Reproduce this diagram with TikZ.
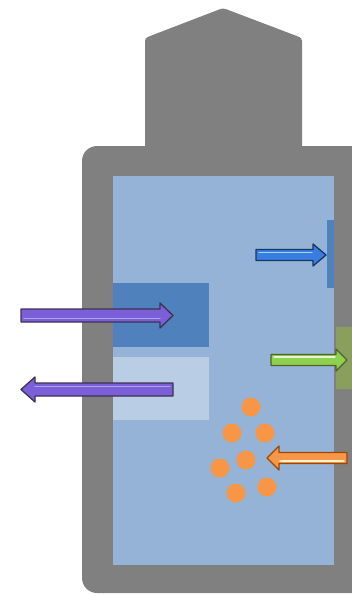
\documentclass[tikz,border=0pt]{standalone}
\usetikzlibrary{calc}
\definecolor{casegray}{HTML}{808080}
\definecolor{innerblue}{HTML}{95B3D7}
\definecolor{darkblock}{HTML}{4F81BD}
\definecolor{lightblock}{HTML}{B9CDE5}
\definecolor{greenblock}{HTML}{8A9E5E}
\definecolor{purplefill}{HTML}{7B5FD8}
\definecolor{purpleline}{HTML}{3F3151}
\definecolor{purplelight}{HTML}{ABA5EC}
\definecolor{bluefill}{HTML}{3A7DE0}
\definecolor{blueline}{HTML}{17375E}
\definecolor{bluelight}{HTML}{9AD8F5}
\definecolor{greenfill}{HTML}{8FD14F}
\definecolor{greenline}{HTML}{4F6228}
\definecolor{greenlight}{HTML}{E6F5D5}
\definecolor{orangefill}{HTML}{F79646}
\definecolor{orangeline}{HTML}{984807}
\definecolor{orangelight}{HTML}{FFF2CC}
\definecolor{dotorange}{HTML}{F79646}
\tikzset{
  casebody/.style={fill=casegray, draw=none},
  blockfill/.style={draw=none},
  arrowbody/.style={line width=1.3pt, line join=round},
  stripe/.style={line width=1.4pt, line cap=round},
  dot/.style={circle, fill=dotorange, draw=none, minimum size=19pt, inner sep=0pt}
}
% \fatarrow{tailx}{tipx}{cy}{headbasex}{fill}{line}{light}{stripe offset}
\newcommand{\fatarrow}[8]{%
  \draw[arrowbody, fill=#5, draw=#6]
    (#1,#3-6.5) -- (#4,#3-6.5) -- (#4,#3-12.5) -- (#2,#3) -- (#4,#3+12.5)
    -- (#4,#3+6.5) -- (#1,#3+6.5) -- cycle;
  \draw[stripe, draw=#7] ($(#1,#3+#8)+(3,0)$) -- ($(#4,#3+#8)$);
}
\newcommand{\fatarrowL}[8]{%
  \draw[arrowbody, fill=#5, draw=#6]
    (#1,#3-6.5) -- (#4,#3-6.5) -- (#4,#3-12.5) -- (#2,#3) -- (#4,#3+12.5)
    -- (#4,#3+6.5) -- (#1,#3+6.5) -- cycle;
  \draw[stripe, draw=#7] ($(#1,#3+#8)+(-3,0)$) -- ($(#4,#3+#8)$);
}
\begin{document}
\begin{tikzpicture}[x=1pt,y=-1pt]
\useasboundingbox (0,0) rectangle (352,594);
\clip (0,0) rectangle (352,594);
% case
\fill[casebody, rounded corners=3pt] (145,150) -- (145,38) -- (223,8) -- (302,38) -- (302,150) -- cycle;
\fill[casebody, rounded corners=15pt] (82,146) rectangle (372,593);
% inner
\fill[innerblue] (113,176) rectangle (334,565);
\fill[darkblock] (113,283) rectangle (209,347);
\fill[lightblock] (113,357) rectangle (209,420);
\fill[darkblock] (327,220) rectangle (334,288);
\fill[greenblock] (336,327) rectangle (352,389);
% dots
\node[dot] (d1) at (251,407) {};
\node[dot] (d2) at (232,433) {};
\node[dot] (d3) at (265,433) {};
\node[dot] (d4) at (246,460) {};
\node[dot] (d5) at (220,468) {};
\node[dot] (d6) at (236,493) {};
\node[dot] (d7) at (267,487) {};
% arrows
\fatarrow{21}{173}{315.5}{160}{purplefill}{purpleline}{purplelight}{3}
\fatarrowL{173}{21}{389.5}{35}{purplefill}{purpleline}{purplelight}{-3}
\begin{scope}
\draw[arrowbody, fill=bluefill, draw=blueline]
  (256,249.5) -- (313,249.5) -- (313,244) -- (326,255) -- (313,266) -- (313,260.5) -- (256,260.5) -- cycle;
\draw[stripe, draw=bluelight] (259,252.5) -- (312,252.5);
\draw[arrowbody, fill=greenfill, draw=greenline]
  (271,354.5) -- (336,354.5) -- (336,349) -- (347,360) -- (336,371) -- (336,365.5) -- (271,365.5) -- cycle;
\draw[stripe, draw=greenlight] (274,357) -- (335,357);
\draw[arrowbody, fill=orangefill, draw=orangeline]
  (347,452.5) -- (279,452.5) -- (279,446) -- (267,458) -- (279,470) -- (279,463.5) -- (347,463.5) -- cycle;
\draw[stripe, draw=orangelight] (344,461) -- (280,461);
\end{scope}
\end{tikzpicture}
\end{document}
